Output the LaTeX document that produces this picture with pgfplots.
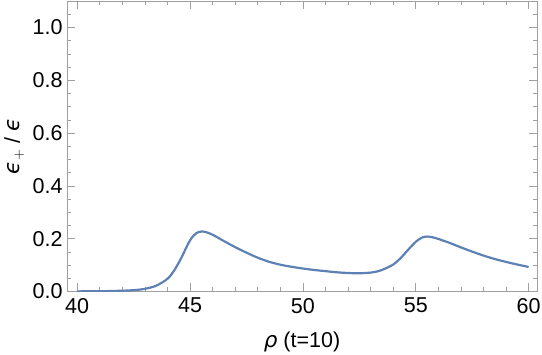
\documentclass[border=0pt]{standalone}
\usepackage{pgfplots}
\pgfplotsset{compat=1.18}
\usepackage{fontspec}
\setmainfont{Liberation Sans}
\newfontfamily\dejavu{DejaVu Sans}
\definecolor{mblue}{RGB}{94,129,181}
\definecolor{fgray}{RGB}{160,160,160}
\begin{document}
\begin{tikzpicture}
\useasboundingbox (-67pt,-63.5pt) rectangle (475pt,291.5pt);
\begin{axis}[
  scale only axis, width=470pt, height=290.5pt,
  xmin=39.55, xmax=60.37, ymin=0, ymax=1.1,
  xtick={40,45,50,55,60}, ytick={0,0.2,0.4,0.6,0.8,1.0},
  minor xtick={41,42,43,44,46,47,48,49,51,52,53,54,56,57,58,59},
  minor ytick={0.05,0.1,0.15,0.25,0.3,0.35,0.45,0.5,0.55,0.65,0.7,0.75,0.85,0.9,0.95,1.05},
  yticklabel style={xshift=-1pt, /pgf/number format/fixed, /pgf/number format/fixed zerofill, /pgf/number format/precision=1},
  /pgf/number format/assume math mode=true,
  tick align=inside,
  major tick length=8pt, minor tick length=4.5pt,
  tick style={fgray, line width=0.6pt},
  axis line style={fgray, line width=0.8pt},
  ticklabel style={font=\fontsize{21.5}{24}\selectfont, black},
  xticklabel style={yshift=-3pt},
  label style={font=\fontsize{21.5}{24}\selectfont},
  xlabel={{\dejavu\itshape ρ} (t=10)},
  ylabel={{\dejavu\itshape ϵ}$_{+}$ / {\dejavu\itshape ϵ}},
  xlabel style={yshift=-12pt},
  ylabel style={yshift=5pt, inner sep=0pt},
]
\addplot[mblue, line width=2.2pt, smooth, tension=0.5] coordinates {
(40.0,0.0005) (41.0,0.001) (42.0,0.003) (42.5,0.005) (43.0,0.010) (43.5,0.022)
(44.0,0.048) (44.3,0.080) (44.6,0.125) (44.9,0.178) (45.1,0.206) (45.3,0.222)
(45.5,0.227) (45.7,0.225) (46.0,0.215) (46.5,0.191) (47.0,0.168) (47.5,0.147)
(48.0,0.128) (48.5,0.1125) (49.0,0.1015) (49.5,0.0935) (50.0,0.087) (50.5,0.0815)
(51.0,0.077) (51.5,0.0727) (52.0,0.0700) (52.5,0.069) (53.0,0.0715) (53.3,0.076)
(53.6,0.085) (54.0,0.102) (54.3,0.124) (54.6,0.152) (54.9,0.180) (55.1,0.195)
(55.3,0.205) (55.5,0.208) (55.7,0.206) (56.0,0.199) (56.5,0.184) (57.0,0.167)
(57.5,0.151) (58.0,0.136) (58.5,0.123) (59.0,0.112) (59.5,0.102) (60.0,0.093)
};
\end{axis}
\end{tikzpicture}
\end{document}
